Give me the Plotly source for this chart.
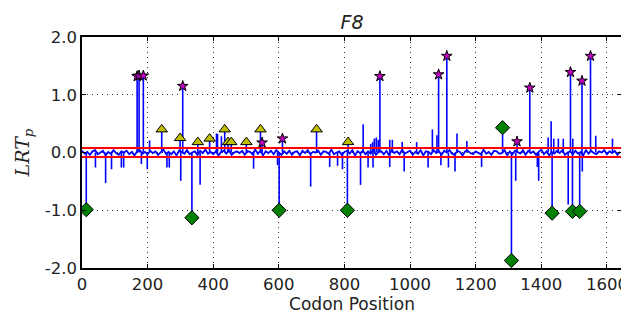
import plotly.graph_objects as go

# ---------------- data ----------------
TITLE = "F8"
X_MAX = 1646
X_TICKS = [0, 200, 400, 600, 800, 1000, 1200, 1400, 1600]
Y_TICKS = [-2.0, -1.0, 0.0, 1.0, 2.0]
Y_TICK_LABELS = ["-2.0", "-1.0", "0.0", "1.0", "2.0"]
THRESHOLDS = [0.078, -0.078]

# baseline LRT values sampled every 8 codons (hand-read jitter band)
BASE_STEP = 8
BASE_VAL = [
    0.03, -0.02, 0.01, -0.04, 0.02, 0.04, -0.03, 0.00, 0.03, -0.05,
    0.01, -0.02, 0.04, -0.01, -0.04, 0.02, 0.00, 0.03, -0.03, 0.01,
    -0.05, 0.02, 0.04, -0.02, 0.01, -0.03, 0.03, -0.01, 0.02, -0.04,
    0.00, 0.05, -0.02, 0.01, -0.03, 0.02, -0.05, 0.03, 0.01, -0.02,
    0.04, -0.03, 0.00, 0.02, -0.04, 0.03, -0.01, 0.05, -0.02, 0.01,
    -0.03, 0.02, -0.05, 0.01, 0.03, -0.02, 0.04, -0.04, 0.00, 0.02,
    -0.01, 0.03, -0.04, 0.02, 0.01, -0.03, 0.05, -0.02, 0.03, -0.05,
    0.02, -0.01, 0.03, -0.03, 0.04, 0.00, -0.04, 0.02, -0.02, 0.03,
    -0.04, 0.01, 0.02, -0.05, 0.03, -0.01, 0.04, -0.03, 0.01, 0.00,
    0.03, -0.04, 0.02, 0.01, -0.02, 0.05, -0.03, 0.00, 0.02, -0.04,
    0.01, 0.03, -0.02, 0.04, -0.05, 0.02, -0.01, 0.03, -0.03, 0.02,
    -0.02, 0.04, -0.04, 0.01, 0.02, -0.03, 0.03, -0.05, 0.04, -0.01,
    0.02, -0.03, 0.05, -0.02, 0.00, 0.03, -0.04, 0.01, -0.02, 0.04,
    -0.05, 0.02, 0.01, -0.03, 0.04, -0.01, 0.02, -0.04, 0.03, 0.00,
    0.04, -0.02, -0.04, 0.03, 0.01, -0.05, 0.02, 0.03, -0.01, -0.03,
    0.02, 0.00, -0.03, 0.05, -0.02, 0.01, -0.04, 0.03, 0.02, -0.02,
    -0.01, 0.04, -0.05, 0.02, -0.03, 0.03, 0.00, -0.02, 0.04, -0.04,
    0.03, -0.01, 0.02, -0.04, 0.01, 0.05, -0.03, 0.02, -0.05, 0.01,
    -0.02, 0.03, -0.01, 0.04, -0.04, 0.00, 0.02, -0.03, 0.03, -0.02,
    0.01, -0.05, 0.04, -0.02, 0.03, -0.01, -0.03, 0.02, 0.00, 0.04,
    -0.03, 0.02, -0.01, 0.03, -0.04, 0.01,
]
BASE_POS = [i * BASE_STEP for i in range(len(BASE_VAL))]

# non-significant single-codon spikes
SPIKE_POS = [41, 72, 90, 120, 127, 181, 199, 259, 266, 301, 360, 523, 596, 697,
             755, 779, 794, 849, 872, 887, 938, 982, 1055, 1094, 1117, 1137,
             1218, 1322, 1388, 1392, 1482, 1525,
             206, 410, 413, 425, 857, 880, 886, 891, 897, 903, 938, 946, 976,
             1020, 1068, 1082, 1143, 1173, 1421, 1430, 1438, 1452, 1467, 1496,
             1566, 1617]
SPIKE_VAL = [-0.26, -0.53, -0.29, -0.26, -0.26, -0.20, -0.29, -0.26, -0.26, -0.49,
             -0.56, -0.28, -0.22, -0.59, -0.25, -0.23, -0.29, -0.56, -0.26, -0.26,
             -0.25, -0.33, -0.26, -0.22, -0.26, -0.33, -0.25, -0.49, -0.25, -0.49,
             -0.90, -0.33,
             0.21, 0.33, 0.32, 0.28, 0.49, 0.15, 0.18, 0.24, 0.26, 0.22, 0.22,
             0.22, 0.18, 0.18, 0.40, 0.30, 0.33, 0.20, 0.26, 0.54, 0.24, 0.24,
             0.24, 0.24, 0.29, 0.24]

# significant sites
STAR_POS = [168, 174, 187, 307, 549, 611, 908, 1087, 1112, 1326, 1365, 1489, 1524, 1550]
STAR_VAL = [1.32, 1.33, 1.33, 1.15, 0.17, 0.24, 1.32, 1.35, 1.67, 0.19, 1.12, 1.39, 1.24, 1.67]

TRI_POS = [243, 299, 353, 389, 435, 445, 455, 501, 544, 715, 811]
TRI_VAL = [0.40, 0.25, 0.18, 0.24, 0.40, 0.18, 0.18, 0.18, 0.40, 0.40, 0.18]

DIA_POS = [13, 335, 601, 809, 1282, 1309, 1433, 1495, 1517]
DIA_VAL = [-0.99, -1.13, -1.00, -1.00, 0.43, -1.87, -1.05, -1.02, -1.02]

# ---------------- figure ----------------
BLUE = "#0000ff"
fig = go.Figure()

fig.add_trace(go.Scatter(x=BASE_POS, y=BASE_VAL, mode="lines",
                         line=dict(color=BLUE, width=1.8), hoverinfo="skip",
                         showlegend=False))

stem_x, stem_y = [], []
for p, v in zip(SPIKE_POS + STAR_POS + TRI_POS + DIA_POS,
                SPIKE_VAL + STAR_VAL + TRI_VAL + DIA_VAL):
    stem_x += [p, p, None]
    stem_y += [0, v, None]
fig.add_trace(go.Scatter(x=stem_x, y=stem_y, mode="lines",
                         line=dict(color=BLUE, width=1.6), hoverinfo="skip",
                         showlegend=False))

for t in THRESHOLDS:
    fig.add_trace(go.Scatter(x=[0, X_MAX], y=[t, t], mode="lines",
                             line=dict(color="#ff0000", width=1.8),
                             hoverinfo="skip", showlegend=False))

fig.add_trace(go.Scatter(x=TRI_POS, y=TRI_VAL, mode="markers",
                         marker=dict(symbol="triangle-up", size=10, color="#bfbf00",
                                     line=dict(color="black", width=1)),
                         showlegend=False))
fig.add_trace(go.Scatter(x=STAR_POS, y=STAR_VAL, mode="markers",
                         marker=dict(symbol="star", size=8, color="#bf00bf",
                                     line=dict(color="black", width=1)),
                         showlegend=False))
fig.add_trace(go.Scatter(x=DIA_POS, y=DIA_VAL, mode="markers",
                         marker=dict(symbol="diamond", size=11, color="#008000",
                                     line=dict(color="black", width=1)),
                         showlegend=False))

axis_common = dict(showline=True, linecolor="black", linewidth=1.5, mirror="ticks",
                   ticks="inside", ticklen=4, tickcolor="black", automargin=False,
                   showgrid=True, gridcolor="#333333", gridwidth=1,
                   griddash="1px,4px",
                   zeroline=False, tickfont=dict(size=16.5, color="#222222"))

# page body has an 8px margin, so the layout is offset by 8px
fig.update_layout(
    width=629, height=320,
    margin=dict(l=74, r=15, t=29, b=60),
    paper_bgcolor="white", plot_bgcolor="white",
    font=dict(family="DejaVu Sans", color="#222222"),
    title=dict(text="<i>" + TITLE + "</i>", x=344 / 629, xanchor="center",
               xref="container", y=1 - 14 / 320, yref="container",
               yanchor="middle", font=dict(size=19, color="#222222")),
    xaxis=dict(range=[0, X_MAX], tickvals=X_TICKS,
               title=dict(text="Codon Position", font=dict(size=17), standoff=6),
               **axis_common),
    yaxis=dict(range=[-2, 2], tickvals=Y_TICKS, ticktext=Y_TICK_LABELS,
               title=dict(text="<i>LRT<sub>p</sub></i>",
                          font=dict(size=19, family="DejaVu Serif"), standoff=10),
               **axis_common),
)

fig.write_html("out.html")
